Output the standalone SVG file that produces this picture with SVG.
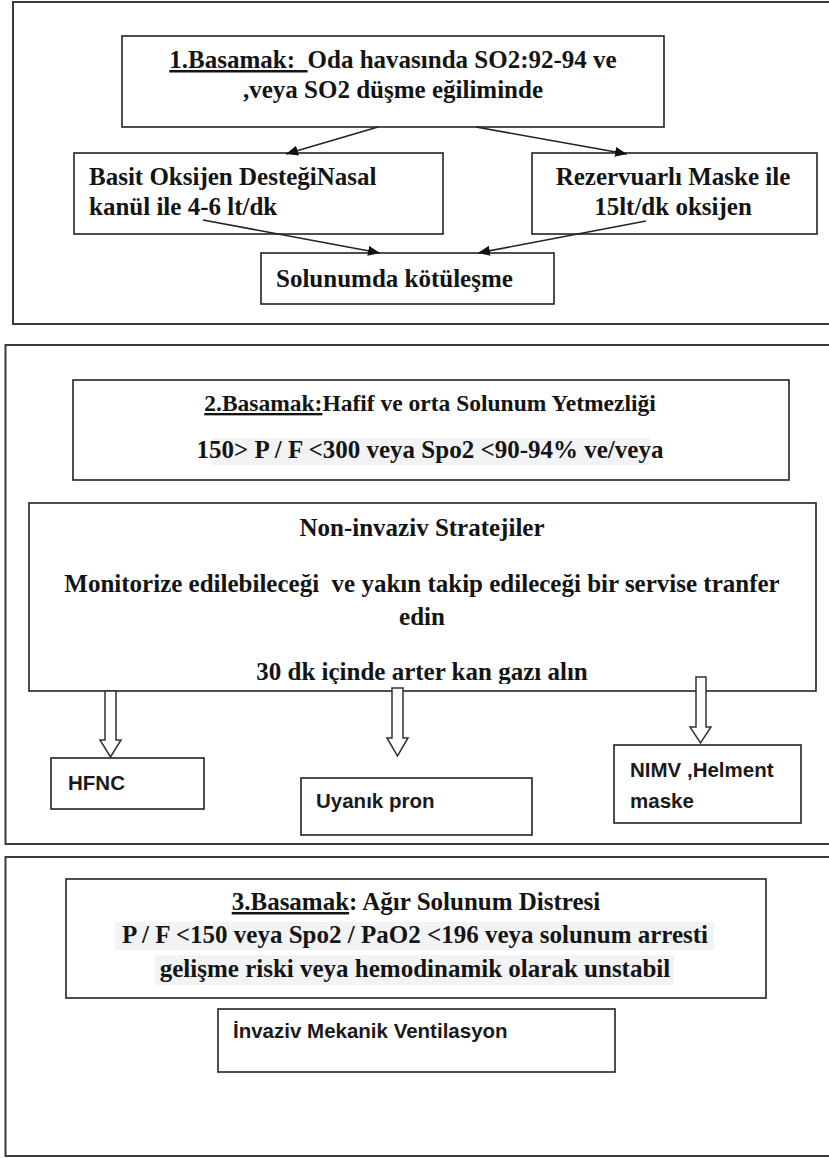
<svg xmlns="http://www.w3.org/2000/svg" width="829" height="1158" viewBox="0 0 829 1158">
<style>
.outer{fill:none;stroke:#3a3a3a;stroke-width:2}
.box{fill:#fff;stroke:#222;stroke-width:1.6}
.t{font-family:"Liberation Serif","Times New Roman",serif;font-weight:bold;font-size:25px;fill:#141414}
.t2{font-family:"Liberation Serif","Times New Roman",serif;font-weight:bold;font-size:23.5px;fill:#141414}
.s{font-family:"Liberation Sans",Arial,sans-serif;font-weight:bold;font-size:20.5px;fill:#1a1a1a}
.u{text-decoration:underline}
.hl{fill:#f2f3f5}
.ln{stroke:#222;stroke-width:1.6;fill:none}
.blk{fill:#fff;stroke:#333;stroke-width:1.5}
</style>
<defs>
<marker id="ah" markerUnits="userSpaceOnUse" markerWidth="14" markerHeight="12" refX="12" refY="5" orient="auto">
<path d="M0,0 L12,5 L0,10 Z" fill="#111"/>
</marker>
<clipPath id="clipNI"><rect x="29" y="503" width="787" height="181"/></clipPath>
</defs>
<rect width="829" height="1158" fill="#fff"/>

<g id="stage1">
<rect class="outer" x="13" y="2" width="830" height="322"/>
</g>
<g id="stage2">
<rect class="outer" x="5.5" y="345" width="840" height="499"/>
</g>
<g id="stage3">
<rect class="outer" x="5.5" y="857" width="840" height="299"/>
</g>

<g id="n1">
<rect class="box" x="122" y="36" width="542" height="91"/>
<text class="t" x="393" y="68" text-anchor="middle" xml:space="preserve"><tspan class="u">1.Basamak:  </tspan>Oda havasında SO2:92-94 ve</text>
<text class="t" x="393" y="98" text-anchor="middle">,veya SO2 düşme eğiliminde</text>
</g>
<g id="n2">
<rect class="box" x="74" y="153" width="369" height="81"/>
<text class="t" x="89" y="185">Basit Oksijen DesteğiNasal</text>
<text class="t" x="89" y="215">kanül ile 4-6 lt/dk</text>
</g>
<g id="n3">
<rect class="box" x="532" y="153" width="285" height="81"/>
<text class="t" x="673" y="185" text-anchor="middle">Rezervuarlı Maske ile</text>
<text class="t" x="673" y="215" text-anchor="middle">15lt/dk oksijen</text>
</g>
<g id="n4">
<rect class="box" x="261" y="253" width="293" height="51"/>
<text class="t" x="276" y="287">Solunumda kötüleşme</text>
</g>

<g id="n5">
<rect class="box" x="73" y="380" width="716" height="100"/>
<text class="t2" x="430" y="411" text-anchor="middle"><tspan class="u">2.Basamak:</tspan>Hafif ve orta Solunum Yetmezliği</text>
<rect class="hl" x="211" y="438" width="439" height="27"/>
<text class="t" x="430" y="458" text-anchor="middle">150&gt; P / F &lt;300 veya Spo2 &lt;90-94% ve/veya</text>
</g>
<g id="n6">
<rect class="box" x="29" y="503" width="787" height="188"/>
<text class="t" x="422" y="536" text-anchor="middle">Non-invaziv Stratejiler</text>
<text class="t" x="422" y="592" text-anchor="middle" xml:space="preserve">Monitorize edilebileceği  ve yakın takip edileceği bir servise tranfer</text>
<text class="t" x="422" y="625" text-anchor="middle">edin</text>
<text class="t" x="422" y="680" text-anchor="middle" clip-path="url(#clipNI)">30 dk içinde arter kan gazı alın</text>
</g>
<g id="n7">
<rect class="box" x="51" y="758" width="153" height="51"/>
<text class="s" x="68" y="790">HFNC</text>
</g>
<g id="n8">
<rect class="box" x="301" y="778" width="231" height="57"/>
<text class="s" x="316" y="808">Uyanık pron</text>
</g>
<g id="n9">
<rect class="box" x="614" y="745" width="187" height="78"/>
<text class="s" x="630" y="777">NIMV ,Helment</text>
<text class="s" x="630" y="808">maske</text>
</g>

<g id="n10">
<rect class="box" x="66" y="879" width="700" height="119"/>
<text class="t" x="416" y="910" text-anchor="middle"><tspan class="u">3.Basamak</tspan>: Ağır Solunum Distresi</text>
<rect class="hl" x="115" y="922" width="599" height="28"/>
<text class="t" x="415" y="943" text-anchor="middle">P / F &lt;150 veya Spo2 / PaO2 &lt;196 veya solunum arresti</text>
<rect class="hl" x="155" y="955" width="519" height="30"/>
<text class="t" x="415" y="977" text-anchor="middle">gelişme riski veya hemodinamik olarak unstabil</text>
</g>
<g id="n11">
<rect class="box" x="218" y="1009" width="397" height="63"/>
<text class="s" x="233" y="1038">İnvaziv Mekanik Ventilasyon</text>
</g>

<g id="connectors">
<line class="ln" x1="378" y1="127" x2="286" y2="154" marker-end="url(#ah)"/>
<line class="ln" x1="476" y1="127" x2="627" y2="154" marker-end="url(#ah)"/>
<line class="ln" x1="203" y1="220" x2="380" y2="253" marker-end="url(#ah)"/>
<line class="ln" x1="646" y1="221" x2="478" y2="253" marker-end="url(#ah)"/>
<polygon class="blk" points="105,691 116,691 116,740 121,740 110.5,757 100,740 105,740"/>
<polygon class="blk" points="392,688 403,688 403,738 408,738 397.5,756 387,738 392,738"/>
<polygon class="blk" points="696,677 706,677 706,727 711,727 700.5,743 690,727 696,727"/>
</g>
</svg>
